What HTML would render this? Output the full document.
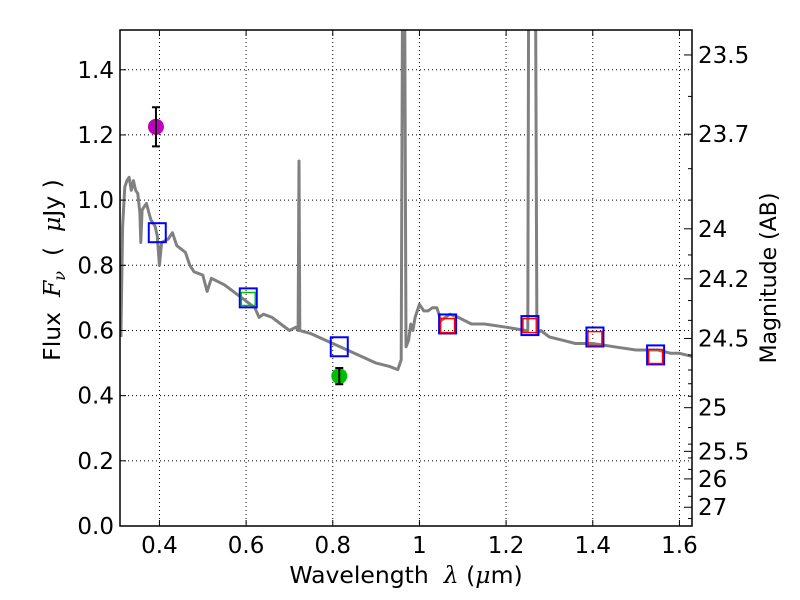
<!DOCTYPE html>
<html><head><meta charset="utf-8"><style>
html,body{margin:0;padding:0;background:#fff;}
svg{display:block;font-family:"DejaVu Sans","Liberation Sans",sans-serif;}
text{white-space:pre;}
</style></head><body>
<svg id="chart" width="800" height="600" viewBox="0 0 800 600" xml:space="preserve">
<rect width="800" height="600" fill="#fff"/>
<g id="grid"></g>
<g id="plot"></g>
<g id="axes"></g>
<text x="406" y="583" font-size="23.5" text-anchor="middle">Wavelength  <tspan font-family="DejaVu Serif" font-style="italic">λ</tspan> (<tspan font-family="DejaVu Serif" font-style="italic">μ</tspan>m)</text>
<text transform="translate(60,270) rotate(-90)" font-size="23.5" text-anchor="middle">Flux  <tspan font-family="DejaVu Serif" font-style="italic">F</tspan><tspan font-family="DejaVu Serif" font-style="italic" font-size="16" dy="5">ν</tspan><tspan dy="-5">  (  </tspan><tspan font-family="DejaVu Serif" font-style="italic">μ</tspan>Jy )</text>
<text transform="translate(776,278) rotate(-90)" font-size="22" text-anchor="middle">Magnitude (AB)</text>
</svg>
<script>
const xTicks=[0.4,0.6,0.8,1.0,1.2,1.4,1.6];
const xTickLabels=["0.4","0.6","0.8","1","1.2","1.4","1.6"];
const yTicks=[0,0.2,0.4,0.6,0.8,1.0,1.2,1.4];
const yTickLabels=["0.0","0.2","0.4","0.6","0.8","1.0","1.2","1.4"];
const magLabels=[23.5,23.7,24,24.2,24.5,25,25.5,26,27];
const magMinor=[23.6,23.8,23.9,24.1,24.3,24.4,24.6,24.7,24.8,24.9,25.2,25.4,25.6,25.8,26.5,28];
const specWave=[0.311,0.315,0.32,0.325,0.33,0.335,0.34,0.345,0.35,0.355,0.357,0.36,0.37,0.38,0.39,0.395,0.40,0.405,0.42,0.43,0.44,0.46,0.47,0.48,0.50,0.51,0.52,0.55,0.58,0.60,0.62,0.63,0.64,0.66,0.68,0.70,0.715,0.72,0.722,0.724,0.75,0.80,0.85,0.90,0.93,0.95,0.958,0.961,0.966,0.969,0.975,0.98,0.985,0.99,0.995,1.0,1.01,1.02,1.03,1.04,1.05,1.06,1.07,1.09,1.12,1.15,1.20,1.245,1.25,1.252,1.268,1.271,1.28,1.30,1.33,1.36,1.40,1.45,1.50,1.55,1.58,1.60,1.63];
const specFlux=[0.58,0.92,1.04,1.06,1.07,1.03,1.06,1.03,1.02,0.96,0.87,0.97,0.99,0.94,0.92,0.89,0.80,0.87,0.88,0.90,0.86,0.84,0.80,0.78,0.77,0.72,0.76,0.74,0.71,0.69,0.67,0.64,0.65,0.64,0.62,0.60,0.61,0.60,1.12,0.60,0.59,0.56,0.53,0.50,0.49,0.48,0.51,1.6,1.6,0.55,0.57,0.62,0.60,0.64,0.66,0.68,0.66,0.66,0.67,0.67,0.63,0.64,0.65,0.64,0.62,0.62,0.61,0.60,0.60,1.6,1.6,0.59,0.60,0.58,0.57,0.56,0.56,0.55,0.54,0.54,0.53,0.53,0.52];
const bandWave=[0.395,0.605,0.815,1.065,1.255,1.405,1.545];
const bandFlux=[0.90,0.70,0.55,0.62,0.615,0.58,0.525];
const modelWave=[1.065,1.255,1.405,1.545];
const modelFlux=[0.615,0.615,0.575,0.52];
const greenBoxWave=[0.605];
const greenBoxFlux=[0.695];
const obsWave=[0.392,0.815];
const obsFlux=[1.225,0.46];
const obsErr=[0.06,0.025];
const obsColor=["#bf00bf","#00bf00"];

const L=120,R=692,T=30,B=526,X0=0.309,X1=1.629,Y0=0,Y1=1.522;
const sx=v=>L+(v-X0)/(X1-X0)*(R-L);
const sy=v=>B-(v-Y0)/(Y1-Y0)*(B-T);
const mag2y=m=>sy(Math.pow(10,(23.9-m)/2.5));
const NS="http://www.w3.org/2000/svg";
function mk(p,tag,attrs){const e=document.createElementNS(NS,tag);for(const k in attrs)e.setAttribute(k,attrs[k]);p.appendChild(e);return e;}
const grid=document.getElementById('grid'),plot=document.getElementById('plot'),axes=document.getElementById('axes');

xTicks.forEach((v,i)=>{
 const g=mk(grid,'line',{x1:sx(v),x2:sx(v),y1:T,y2:B,stroke:'#000','stroke-width':1,'stroke-dasharray':'1,3'});
 
 
 const t=mk(axes,'line',{x1:sx(v),x2:sx(v),y1:B,y2:B-6,stroke:'#000'});
 
 
 const t2=mk(axes,'line',{x1:sx(v),x2:sx(v),y1:T,y2:T+6,stroke:'#000'});
 
 
 const l=mk(axes,'text',{x:sx(v),y:B+27,'font-size':23,'text-anchor':'middle'});
 l.textContent=xTickLabels[i];
 
 
});
yTicks.forEach((v,i)=>{
 const g=mk(grid,'line',{x1:L,x2:R,y1:sy(v),y2:sy(v),stroke:'#000','stroke-width':1,'stroke-dasharray':'1,3'});
 
 
 const t=mk(axes,'line',{x1:L,x2:L+6,y1:sy(v),y2:sy(v),stroke:'#000'});
 
 
 const l=mk(axes,'text',{x:L-6,y:sy(v)+8,'font-size':23,'text-anchor':'end'});
 l.textContent=yTickLabels[i];
 
 
});
magLabels.forEach(m=>{
 const y=mag2y(m);
 const t=mk(axes,'line',{x1:R,x2:R-8,y1:y,y2:y,stroke:'#000'});
 
 
 const l=mk(axes,'text',{x:R+6,y:y+8,'font-size':23});
 l.textContent=String(m);
 
 
});
magMinor.forEach(m=>{
 const y=mag2y(m);if(y<T||y>B)return;
 const t=mk(axes,'line',{x1:R,x2:R-4,y1:y,y2:y,stroke:'#000'});
 
 
});

const defs=mk(document.getElementById('chart'),'defs',{});
const cp=mk(defs,'clipPath',{id:'clip'});mk(cp,'rect',{x:L,y:T,width:R-L,height:B-T});
plot.setAttribute('clip-path','url(#clip)');

const pts=specWave.map((w,i)=>sx(w).toFixed(1)+','+sy(specFlux[i]).toFixed(1)).join(' ');
const sp=mk(plot,'polyline',{points:pts,fill:'none',stroke:'#808080','stroke-width':3,'stroke-linejoin':'round'});



bandWave.forEach((w,i)=>{
 const s=mk(plot,'rect',{x:sx(w)-8.5,y:sy(bandFlux[i])-9.5,width:17,height:19,fill:'none',stroke:'#0000ff','stroke-width':2});
 
 
});
modelWave.forEach((w,i)=>{
 const s=mk(plot,'rect',{x:sx(w)-7,y:sy(modelFlux[i])-7,width:14,height:14,fill:'none',stroke:'#ff0000','stroke-width':1.5});
 
 
});
greenBoxWave.forEach((w,i)=>{
 const s=mk(plot,'rect',{x:sx(w)-7,y:sy(greenBoxFlux[i])-7,width:14,height:13,fill:'none',stroke:'#00bf00','stroke-width':1.5});
 
 
});
obsWave.forEach((w,i)=>{
 const x=sx(w),y=sy(obsFlux[i]),y1=sy(obsFlux[i]+obsErr[i]),y2=sy(obsFlux[i]-obsErr[i]);
 const c=mk(plot,'circle',{cx:x,cy:y,r:8,fill:obsColor[i]});
 
 
 const e=mk(plot,'path',{d:`M${x},${y1}V${y2}M${x-4},${y1}H${x+4}M${x-4},${y2}H${x+4}`,stroke:'#000','stroke-width':2,fill:'none'});
 
 
});

const fr=mk(axes,'rect',{x:L,y:T,width:R-L,height:B-T,fill:'none',stroke:'#000','stroke-width':1.5});


</script>
</body></html>
